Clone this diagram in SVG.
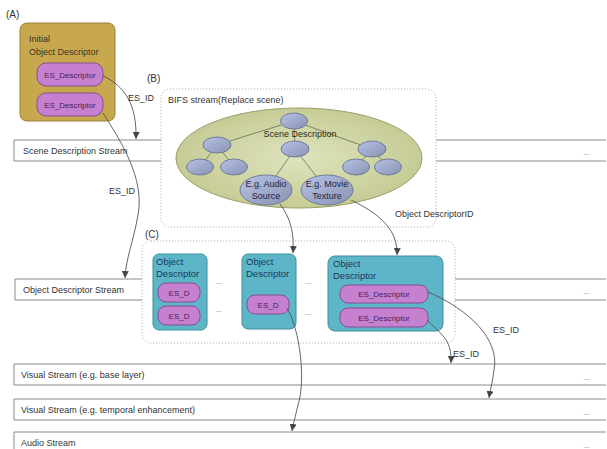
<svg xmlns="http://www.w3.org/2000/svg" width="607" height="449" viewBox="0 0 607 449">
<style>
text{font-family:"Liberation Sans",Arial,sans-serif;fill:#333}
.lbl{font-size:9px}
.band{fill:#fff;stroke:#8a8a8a;stroke-width:1}
.dots{font-size:8px;fill:#777}
.dbox{fill:#fff;stroke:#b5b5b5;stroke-width:1;stroke-dasharray:1.2 1.8}
.od{fill:#5cb6c8;stroke:#3f8c9c;stroke-width:1}
.odt{font-size:9.5px;fill:#1e3658}
.pill{fill:#c580cf;stroke:#874c94;stroke-width:1}
.pt{font-size:8px;fill:#4a2356;text-anchor:middle}
.node{fill:url(#ng);stroke:#5d6c8c;stroke-width:0.8}
.tree{stroke:#6d6d55;stroke-width:0.8;fill:none}
.conn{fill:none;stroke:#555;stroke-width:0.9;marker-end:url(#ah)}
</style>
<defs>
<marker id="ah" viewBox="0 0 10 10" refX="10" refY="5" markerWidth="7" markerHeight="7" markerUnits="userSpaceOnUse" orient="auto">
<path d="M0,0 L10,5 L0,10 z" fill="#444"/>
</marker>
<linearGradient id="ng" x1="0" y1="0" x2="1" y2="1">
<stop offset="0" stop-color="#b6c3e6"/>
<stop offset="1" stop-color="#8a92b2"/>
</linearGradient>
<radialGradient id="eg" cx="0.5" cy="0.5" r="0.6">
<stop offset="0" stop-color="#dfe3bd"/>
<stop offset="1" stop-color="#c1c78e"/>
</radialGradient>
</defs>

<g id="streams">
<path class="band" d="M606,140 H14 V161 H606"/>
<text class="lbl" x="23" y="154">Scene Description Stream</text>
<text class="dots" x="583" y="155">...</text>
<path class="band" d="M606,279 H15 V300 H606"/>
<text class="lbl" x="23" y="293">Object Descriptor Stream</text>
<text class="dots" x="583" y="294">...</text>
<path class="band" d="M606,364 H14 V385 H606"/>
<text class="lbl" x="21" y="378">Visual Stream (e.g. base layer)</text>
<text class="dots" x="583" y="380">...</text>
<path class="band" d="M606,399 H14 V420 H606"/>
<text class="lbl" x="21" y="413">Visual Stream (e.g. temporal enhancement)</text>
<text class="dots" x="583" y="415">...</text>
<path class="band" d="M606,432 H14 V455 H606"/>
<text class="lbl" x="21" y="446">Audio Stream</text>
<text class="dots" x="583" y="448">...</text>
</g>

<g id="A">
<text class="lbl" x="6" y="18" style="font-size:10px">(A)</text>
<rect x="20" y="23" width="95" height="98" rx="7" fill="#c8a84f" stroke="#977c36"/>
<text class="lbl" x="29" y="42" style="fill:#3a3320">Initial</text>
<text class="lbl" x="29" y="55" style="fill:#3a3320">Object Descriptor</text>
<rect class="pill" x="37" y="63" width="66" height="23" rx="9"/>
<text class="pt" x="70" y="78">ES_Descriptor</text>
<rect class="pill" x="37" y="93" width="66" height="23" rx="9"/>
<text class="pt" x="70" y="108">ES_Descriptor</text>
</g>

<g id="B">
<text class="lbl" x="147" y="82" style="font-size:10px">(B)</text>
<rect class="dbox" x="161" y="89" width="275" height="138" rx="9"/>
<text class="lbl" x="168" y="103">BIFS stream(Replace scene)</text>
<ellipse cx="299" cy="158" rx="123" ry="50" fill="url(#eg)" stroke="#9b9c66" stroke-width="1"/>
<g class="tree">
<line x1="294" y1="121" x2="217" y2="145"/>
<line x1="294" y1="121" x2="372" y2="149"/>
<line x1="294" y1="121" x2="295" y2="149"/>
<line x1="217" y1="145" x2="200" y2="167"/>
<line x1="217" y1="145" x2="234" y2="167"/>
<line x1="372" y1="149" x2="356" y2="167"/>
<line x1="372" y1="149" x2="388" y2="167"/>
<line x1="295" y1="149" x2="266" y2="190"/>
<line x1="295" y1="149" x2="327" y2="190"/>
</g>
<ellipse class="node" cx="294" cy="121" rx="13.5" ry="8"/>
<ellipse class="node" cx="217" cy="145" rx="14" ry="8"/>
<ellipse class="node" cx="295" cy="149" rx="14" ry="8"/>
<ellipse class="node" cx="372" cy="149" rx="14" ry="8"/>
<ellipse class="node" cx="200" cy="167" rx="13.5" ry="8"/>
<ellipse class="node" cx="234" cy="167" rx="13.5" ry="8"/>
<ellipse class="node" cx="356" cy="167" rx="13.5" ry="8"/>
<ellipse class="node" cx="388" cy="167" rx="13.5" ry="8"/>
<ellipse class="node" cx="266" cy="190" rx="26" ry="15"/>
<ellipse class="node" cx="327" cy="190" rx="26" ry="15"/>
<text class="lbl" x="300" y="137" text-anchor="middle" style="fill:#2c2c20">Scene Description</text>
<text class="pt" x="266" y="187" style="font-size:9px;fill:#1e2440">E.g. Audio</text>
<text class="pt" x="266" y="199" style="font-size:9px;fill:#1e2440">Source</text>
<text class="pt" x="327" y="187" style="font-size:9px;fill:#1e2440">E.g. Movie</text>
<text class="pt" x="327" y="199" style="font-size:9px;fill:#1e2440">Texture</text>
</g>

<g id="C">
<text class="lbl" x="145" y="238" style="font-size:10px">(C)</text>
<rect class="dbox" x="142" y="241" width="313" height="102" rx="9"/>
<g id="od1">
<rect class="od" x="153" y="254" width="54" height="76" rx="6"/>
<text class="odt" x="156" y="265">Object</text>
<text class="odt" x="156" y="277">Descriptor</text>
<rect class="pill" x="158" y="283" width="42" height="19" rx="8"/>
<text class="pt" x="179" y="296">ES_D</text>
<rect class="pill" x="158" y="306" width="42" height="19" rx="8"/>
<text class="pt" x="179" y="319">ES_D</text>
</g>
<text class="dots" x="215" y="284">...</text>
<text class="dots" x="215" y="312">...</text>
<g id="od2">
<rect class="od" x="242" y="254" width="54" height="75" rx="6"/>
<text class="odt" x="246" y="265">Object</text>
<text class="odt" x="246" y="277">Descriptor</text>
<rect class="pill" x="247" y="295" width="42" height="19" rx="8"/>
<text class="pt" x="268" y="308">ES_D</text>
</g>
<text class="dots" x="305" y="284">...</text>
<text class="dots" x="305" y="315">...</text>
<g id="od3">
<rect class="od" x="328" y="256" width="115" height="75" rx="7"/>
<text class="odt" x="333" y="267">Object</text>
<text class="odt" x="333" y="279">Descriptor</text>
<rect class="pill" x="340" y="285" width="88" height="18" rx="8"/>
<text class="pt" x="384" y="297">ES_Descriptor</text>
<rect class="pill" x="340" y="308" width="88" height="19" rx="8"/>
<text class="pt" x="384" y="321">ES_Descriptor</text>
</g>
</g>

<g id="connectors">
<path class="conn" d="M103,76 C125,86 137,105 136,139"/>
<text class="lbl" x="128" y="101">ES_ID</text>
<path class="conn" d="M103,113 C120,140 145,178 138,215 C133,243 126,258 125,278"/>
<text class="lbl" x="109" y="194">ES_ID</text>
<path class="conn" d="M280,204 C292,220 294,236 293,253"/>
<path class="conn" d="M351,200 C380,214 398,230 397,255"/>
<text class="lbl" x="395" y="217">Object DescriptorID</text>
<path class="conn" d="M287,308 C300,330 306,380 298,405 C295,418 293,425 292,431"/>
<path class="conn" d="M428,292 C470,310 500,340 494,370 C492,385 490,391 489,398"/>
<text class="lbl" x="493" y="333">ES_ID</text>
<path class="conn" d="M427,320 C440,334 452,338 451,363"/>
<text class="lbl" x="453" y="357">ES_ID</text>
</g>
</svg>
